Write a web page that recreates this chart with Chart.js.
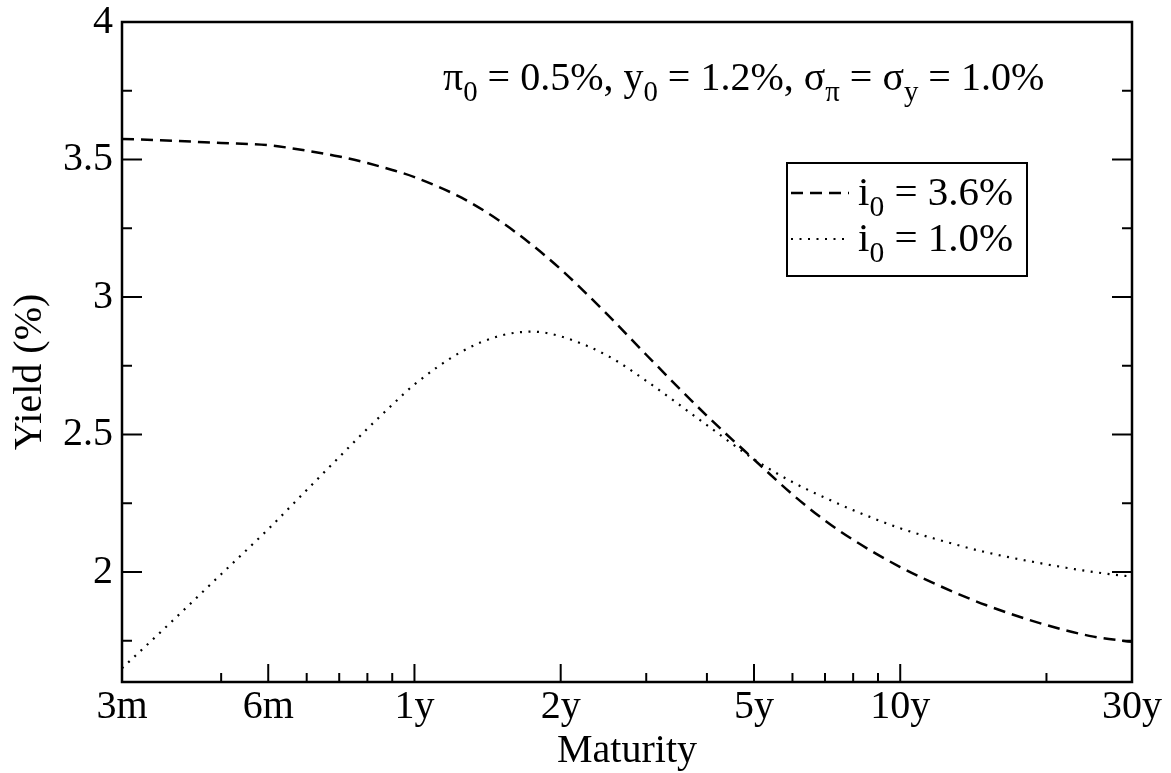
<!DOCTYPE html>
<html>
<head>
<meta charset="utf-8">
<script src="https://cdn.jsdelivr.net/npm/chart.js@4.4.1/dist/chart.umd.min.js"></script>
<style>
  html, body { margin: 0; padding: 0; background: #fff; }
</style>
</head>
<body>
<canvas id="yieldChart" width="1171" height="773"></canvas>
<script>
// maturities in years, yields in %
const maturities = [0.25, 0.3, 0.4, 0.5, 0.6, 0.7, 0.8, 0.9, 1, 1.25, 1.5, 1.75, 2, 2.5, 3, 4, 5, 6, 7, 8, 10, 12, 15, 20, 25, 30];
const yieldHigh = [3.575, 3.570, 3.560, 3.552, 3.532, 3.511, 3.487, 3.462, 3.436, 3.361, 3.276, 3.188, 3.101, 2.935, 2.790, 2.568, 2.409, 2.282, 2.187, 2.117, 2.018, 1.951, 1.880, 1.807, 1.765, 1.746];
const yieldLow = [1.650, 1.781, 1.992, 2.156, 2.298, 2.418, 2.521, 2.608, 2.682, 2.801, 2.859, 2.874, 2.857, 2.786, 2.695, 2.534, 2.410, 2.327, 2.270, 2.225, 2.159, 2.117, 2.072, 2.028, 2.000, 1.983];
const seriesLabels = ["3.6%", "1.0%"];

const xMajorTicks = [0.25, 0.5, 1, 2, 5, 10, 30];
const xTickLabels = ["3m", "6m", "1y", "2y", "5y", "10y", "30y"];
const xMinorTicks = [0.4, 0.6, 0.7, 0.8, 0.9, 3, 4, 6, 7, 8, 9, 20];
const yMajorTicks = [2, 2.5, 3, 3.5, 4];
const yMinorTicks = [1.75, 2.25, 2.75, 3.25, 3.75];
const yTitle = "Yield (%)";

const SERIF = "'Liberation Serif', 'Times New Roman', serif";

function pts(ys) {
  return maturities.map((m, i) => ({ x: m, y: ys[i] }));
}

function tickList(major, minor) {
  return major.concat(minor).sort((a, b) => a - b).map(v => ({ value: v, major: major.includes(v) }));
}

// draws text with subscript pieces, returns end x
function drawRich(ctx, parts, x, y, size) {
  parts.forEach(p => {
    const fs = p.sub ? size * 0.72 : size;
    ctx.font = fs + "px " + SERIF;
    ctx.fillText(p.t, x, p.sub ? y + size * 0.27 : y);
    x += ctx.measureText(p.t).width;
  });
  return x;
}

const notePlugin = {
  id: "notePlugin",
  afterDraw(chart) {
    const ctx = chart.ctx;
    ctx.save();
    ctx.fillStyle = "#000";
    ctx.textBaseline = "alphabetic";
    drawRich(ctx, [
      { t: "\u03c0" }, { t: "0", sub: true }, { t: " = 0.5%, y" }, { t: "0", sub: true },
      { t: " = 1.2%, \u03c3" }, { t: "\u03c0", sub: true }, { t: " = \u03c3" }, { t: "y", sub: true },
      { t: " = 1.0%" }
    ], 443, 90, 40);

    // y axis title, placed a little below the centre as in the original
    ctx.save();
    ctx.translate(30, 372);
    ctx.rotate(-Math.PI / 2);
    ctx.font = "40px " + SERIF;
    ctx.textAlign = "center";
    ctx.textBaseline = "middle";
    ctx.fillText(yTitle, 0, 0);
    ctx.restore();

    // legend box
    ctx.lineWidth = 2;
    ctx.strokeStyle = "#000";
    ctx.strokeRect(787, 163, 240, 113);
    chart.data.datasets.forEach((ds, i) => {
      const ly = 193 + i * 46;
      ctx.setLineDash(ds.borderDash);
      ctx.lineWidth = ds.borderWidth;
      ctx.beginPath();
      ctx.moveTo(791, ly);
      ctx.lineTo(849, ly);
      ctx.stroke();
      ctx.setLineDash([]);
      drawRich(ctx, [{ t: "i" }, { t: "0", sub: true }, { t: " = " + seriesLabels[i] }], 858, ly + 12, 41);
    });
    ctx.restore();
  }
};

// frame plus inward tick marks, like the original plot
const framePlugin = {
  id: "framePlugin",
  afterDraw(chart) {
    const { ctx, chartArea: a, scales } = chart;
    const x = scales.x, y = scales.y;
    ctx.save();
    ctx.strokeStyle = "#000";
    ctx.lineWidth = 2;
    function seg(x1, y1, x2, y2) {
      ctx.beginPath(); ctx.moveTo(x1, y1); ctx.lineTo(x2, y2); ctx.stroke();
    }
    xMajorTicks.forEach(v => { const p = x.getPixelForValue(v); seg(p, a.bottom, p, a.bottom - 18); });
    xMinorTicks.forEach(v => { const p = x.getPixelForValue(v); seg(p, a.bottom, p, a.bottom - 9); });
    yMajorTicks.forEach(v => {
      const p = y.getPixelForValue(v);
      seg(a.left, p, a.left + 20, p);
      seg(a.right, p, a.right - 20, p);
    });
    yMinorTicks.forEach(v => {
      const p = y.getPixelForValue(v);
      seg(a.left, p, a.left + 10, p);
      seg(a.right, p, a.right - 10, p);
    });
    ctx.lineWidth = 2.5;
    ctx.strokeRect(a.left, a.top, a.right - a.left, a.bottom - a.top);
    ctx.restore();
  }
};

new Chart(document.getElementById("yieldChart"), {
  type: "line",
  data: {
    datasets: [
      {
        label: "i0 = " + seriesLabels[0],
        data: pts(yieldHigh),
        borderColor: "#000",
        borderWidth: 2.5,
        borderDash: [12, 7],
        pointRadius: 0,
        fill: false,
        cubicInterpolationMode: "monotone"
      },
      {
        label: "i0 = " + seriesLabels[1],
        data: pts(yieldLow),
        borderColor: "#000",
        borderWidth: 2.2,
        borderDash: [2, 6.5],
        pointRadius: 0,
        fill: false,
        cubicInterpolationMode: "monotone"
      }
    ]
  },
  options: {
    responsive: false,
    animation: false,
    devicePixelRatio: 1,
    layout: { padding: { top: 22, right: 39, left: 0, bottom: 0 } },
    plugins: { legend: { display: false }, tooltip: { enabled: false } },
    scales: {
      x: {
        type: "logarithmic",
        min: 0.25,
        max: 30,
        grid: { display: false },
        border: { display: false },
        afterBuildTicks(scale) { scale.ticks = tickList(xMajorTicks, xMinorTicks); },
        afterFit(scale) {
          scale.height = 91;
          scale.paddingLeft = 0;
          scale.paddingRight = 0;
        },
        ticks: {
          autoSkip: false,
          maxRotation: 0,
          padding: -7,
          color: "#000",
          font: { family: SERIF, size: 40 },
          callback(value) {
            const k = xMajorTicks.indexOf(value);
            return k >= 0 ? xTickLabels[k] : "";
          }
        },
        title: { display: true, text: "Maturity", color: "#000", font: { family: SERIF, size: 40 }, padding: { top: 0, bottom: -2 } }
      },
      y: {
        min: 1.6,
        max: 4,
        grid: { display: false },
        border: { display: false },
        afterBuildTicks(scale) { scale.ticks = tickList(yMajorTicks, yMinorTicks); },
        afterFit(scale) {
          scale.width = 122;
          scale.paddingTop = 0;
          scale.paddingBottom = 0;
        },
        ticks: {
          autoSkip: false,
          padding: 1,
          color: "#000",
          font: { family: SERIF, size: 40 },
          callback(value) { return yMajorTicks.includes(value) ? String(value) : ""; }
        }
      }
    }
  },
  plugins: [framePlugin, notePlugin]
});
</script>
</body>
</html>
